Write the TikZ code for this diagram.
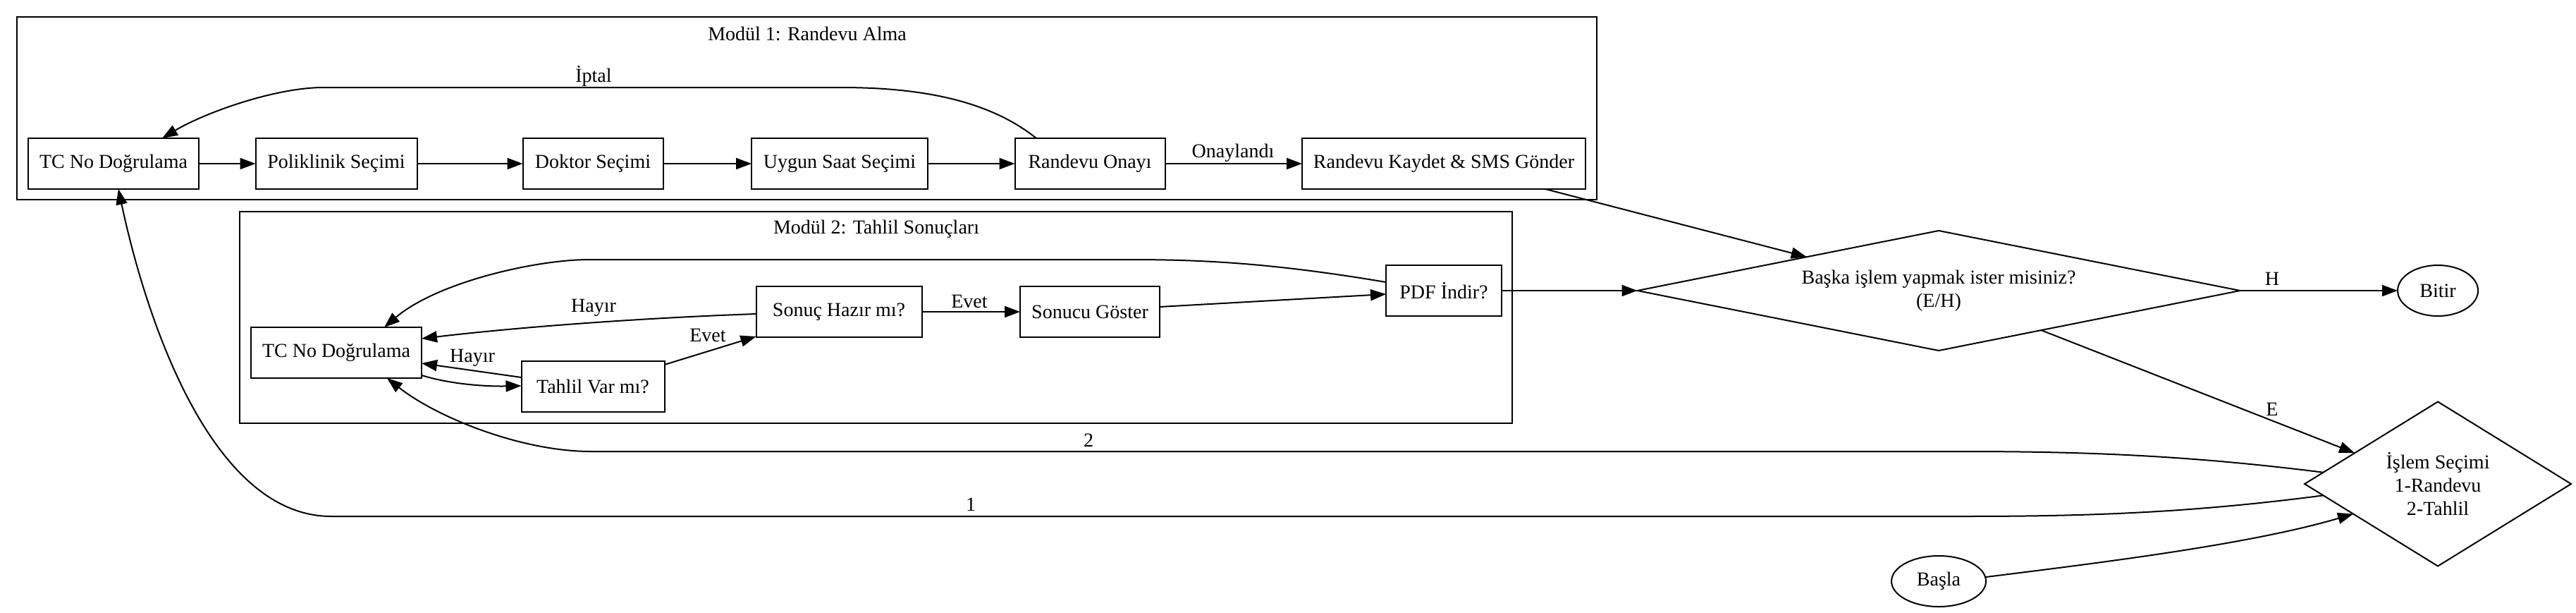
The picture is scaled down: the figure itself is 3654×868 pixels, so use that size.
\documentclass[tikz,border=0pt]{standalone}
\usepackage{fontspec}
\setmainfont{Liberation Serif}
\usetikzlibrary{shapes.geometric,arrows.meta,calc}
\begin{document}
\begin{tikzpicture}[x=0.5pt,y=-0.5pt,
  every node/.style={font=\fontsize{14}{16.5}\selectfont},
  box/.style={draw,line width=1pt,rectangle,inner sep=0pt,outer sep=0pt,minimum height=36pt},
  clusterbox/.style={draw,line width=1pt},
  ellnode/.style={draw,line width=1pt,ellipse,inner sep=0pt,outer sep=0pt,minimum height=36pt},
  dia/.style={draw,line width=1pt,diamond,inner sep=0pt,outer sep=0pt,align=center},
  lbl/.style={inner sep=0pt},
  arr/.style={line width=1pt,-{Triangle[length=11pt,width=8pt]}},
  ln/.style={line width=1pt}]
\useasboundingbox (0,0) rectangle (3654,868);
\fill[white] (0,0) rectangle (3654,868);
% clusters
\draw[clusterbox] (24,24) rectangle (2265,283);
\node[lbl] (t1) at (1145,48) {Modül 1: Randevu Alma};
\draw[clusterbox] (340,300) rectangle (2145,600);
\node[lbl] (t2) at (1243,325) {Modül 2: Tahlil Sonuçları};
% module 1 nodes
\node[box,minimum width=121pt] (tc1) at (161,232) {TC No Doğrulama};
\node[box,minimum width=114.5pt] (pol) at (477,232) {Poliklinik Seçimi};
\node[box,minimum width=99.5pt] (dok) at (841,232) {Doktor Seçimi};
\node[box,minimum width=125pt] (uyg) at (1191,232) {Uygun Saat Seçimi};
\node[box,minimum width=106.5pt] (onay) at (1546,232) {Randevu Onayı};
\node[box,minimum width=201pt] (kay) at (2048,232) {Randevu Kaydet \& SMS Gönder};
% module 2 nodes
\node[box,minimum width=121pt] (tc2) at (477,500) {TC No Doğrulama};
\node[box,minimum width=101.5pt] (tah) at (841,548) {Tahlil Var mı?};
\node[box,minimum width=117.5pt] (son) at (1190,442) {Sonuç Hazır mı?};
\node[box,minimum width=99pt] (gos) at (1546,442) {Sonucu Göster};
\node[box,minimum width=82pt] (pdf) at (2048,412) {PDF İndir?};
% others
\node[dia,shape aspect=5,minimum width=427.5pt,minimum height=85pt] (baska) at (2750,412) {Başka işlem yapmak ister misiniz?\\(E/H)};
\node[ellnode,minimum width=57pt] (bitir) at (3458,412) {Bitir};
\node[dia,shape aspect=1.6,minimum width=189pt,minimum height=116.5pt] (islem) at (3458,686) {İşlem Seçimi\\1-Randevu\\2-Tahlil};
\node[ellnode,minimum width=67pt] (basla) at (2750,824) {Başla};
% module 1 edges
\draw[arr] (tc1.east) -- (pol.west);
\draw[arr] (pol.east) -- (dok.west);
\draw[arr] (dok.east) -- (uyg.west);
\draw[arr] (uyg.east) -- (onay.west);
\draw[arr] (onay.east) -- (kay.west);
\node[lbl] (lonay) at (1749,217) {Onaylandı};
\draw[arr] ($(onay.north)+(-76,0)$) .. controls (1400,140) and (1300,124) .. (1192,124) -- (459,124) .. controls (390,124) and (290,160) .. ($(tc1.north)+(69,0)$);
\node[lbl] (liptal) at (842,108) {İptal};
% module 2 edges
\draw[arr] ($(tc2.east)+(0,32)$) .. controls (640,545) and (690,548) .. ($(tah.west)+(0,-1)$);
\draw[arr] ($(tah.west)+(0,-13)$) -- ($(tc2.east)+(0,15)$);
\node[lbl] (lh1) at (670,507) {Hayır};
\draw[arr] ($(tah.north east)+(0,5)$) -- ($(son.south west)+(0,-1)$);
\node[lbl] (le1) at (1004,475) {Evet};
\draw[arr] ($(son.west)+(0,3)$) .. controls (930,450) and (750,462) .. ($(tc2.east)+(0,-20)$);
\node[lbl] (lh2) at (842,436) {Hayır};
\draw[arr] (son.east) -- (gos.west);
\node[lbl] (le2) at (1375,427) {Evet};
\draw[arr] ($(gos.east)+(0,-7)$) -- ($(pdf.west)+(0,5)$);
\draw[arr] ($(pdf.west)+(0,-12)$) .. controls (1800,372) and (1700,368) .. (1600,368) -- (836,368) .. controls (760,368) and (620,400) .. ($(tc2.north)+(68,0)$);
% outer edges
\draw[arr] (pdf.east) -- (baska.west);
\draw[arr] ($(kay.south)+(144,0)$) -- ($(baska.west)!0.562!(baska.north)$);
\draw[arr] (baska.east) -- (bitir.west);
\node[lbl] (lH) at (3223,395) {H};
\draw[arr] ($(baska.east)!0.66!(baska.south)$) -- ($(islem.west)!0.376!(islem.north)$);
\node[lbl] (lE) at (3223,580) {E};
\draw[arr] ($(basla.east)+(0,-6)$) .. controls (2960,800) and (3188,773) .. ($(islem.west)!0.365!(islem.south)$);
\draw[arr] ($(islem.west)!0.14!(islem.north)$) .. controls (3100,645) and (2950,640) .. (2783,640) -- (838,640) .. controls (740,640) and (620,592) .. ($(tc2.south)+(72,0)$);
\node[lbl] (l2) at (1544,624) {2};
\draw[arr] ($(islem.west)!0.14!(islem.south)$) .. controls (3100,728) and (2950,732) .. (2783,732) -- (470,732) .. controls (290,732) and (200,420) .. ($(tc1.south)+(7,0)$);
\node[lbl] (l1) at (1377,715) {1};
\end{tikzpicture}
\end{document}
